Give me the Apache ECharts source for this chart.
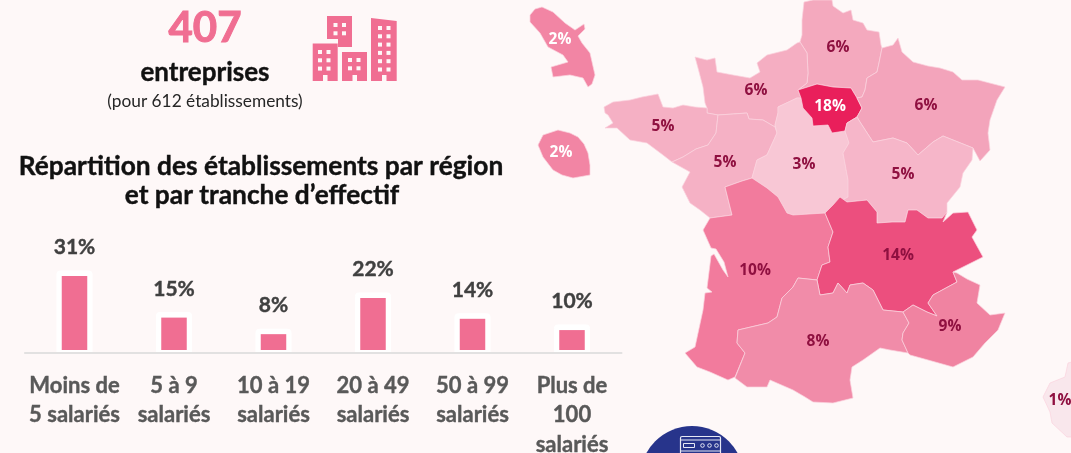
<!DOCTYPE html>
<html>
<head>
<meta charset="utf-8">
<style>
  html, body { margin: 0; padding: 0; background: #fef8f8; }
  #chart { width: 1071px; height: 453px; }
</style>
<script src="https://cdn.jsdelivr.net/npm/echarts@6/dist/echarts.min.js"></script>
</head>
<body>
<div id="chart"></div>
<script>
// tranches d'effectif
const categories = ["Moins de\n5 salariés", "5 à 9\nsalariés", "10 à 19\nsalariés", "20 à 49\nsalariés", "50 à 99\nsalariés", "Plus de\n100\nsalariés"];
// hauteurs (les barres du visuel ne suivent pas tout à fait les % imprimés)
const barValues = [30.8, 13.5, 6.6, 21.7, 13, 8.3];
const barLabels = ["31%", "15%", "8%", "22%", "14%", "10%"];

// régions
const regionNames = ["Hauts-de-France", "Normandie", "Bretagne", "Pays de la Loire", "Centre-Val de Loire", "Île-de-France", "Grand Est", "Bourgogne-Franche-Comté", "Nouvelle-Aquitaine", "Auvergne-Rhône-Alpes", "Occitanie", "PACA", "Corse", "Martinique", "La Réunion"];
const regionValues = [6, 6, 5, 5, 3, 18, 6, 5, 10, 14, 8, 9, 1, 2, 2];

const PINK = "#f06e92";
const BG = "#fef8f8";
const FONT = "Lato, sans-serif";
const MAP_FONT = "'Open Sans', sans-serif";

const regionColors = {
  "Hauts-de-France": "#f4a9be", "Normandie": "#f5aec2", "Bretagne": "#f5b0c4", "Pays de la Loire": "#f5b1c5",
  "Centre-Val de Loire": "#f8c7d5", "Île-de-France": "#e91f5b", "Grand Est": "#f3a4bb", "Bourgogne-Franche-Comté": "#f6b6c9",
  "Nouvelle-Aquitaine": "#f27b9d", "Auvergne-Rhône-Alpes": "#ec4f7e", "Occitanie": "#f18ca9", "PACA": "#f083a1",
  "Corse": "#f9e7ec", "Martinique": "#f285a4", "La Réunion": "#f285a4",
};
const whiteLabels = ["Île-de-France", "Martinique", "La Réunion"];

// contours simplifiés, en pixels de l'image (y vers le bas)
const outlines = {
  "Hauts-de-France": [[804,2],[813,0],[832,0],[833,6],[843,13],[851,10],[853,20],[863,23],[867,30],[879,32],[881,45],[882,48],[879,63],[877,72],[867,78],[865,90],[862,97],[857,98],[851,88],[833,87],[817,84],[798,90],[807,83],[808,73],[807,53],[800,42],[802,35],[802,20]],
  "Normandie": [[695,57],[707,60],[715,58],[717,72],[733,75],[750,78],[760,72],[757,63],[767,55],[787,50],[797,43],[800,42],[807,53],[808,73],[807,83],[798,90],[801,98],[797,98],[778,107],[778,113],[775,125],[775,127],[763,120],[749,119],[747,113],[733,114],[718,115],[707,113],[707,108],[705,103],[703,87],[698,68]],
  "Bretagne": [[604,107],[613,102],[630,100],[642,97],[658,94],[663,107],[673,108],[683,105],[695,107],[707,108],[707,113],[718,115],[716,133],[708,145],[696,149],[683,157],[672,162],[663,155],[647,143],[630,140],[617,128],[605,128],[613,123],[608,115],[605,113]],
  "Pays de la Loire": [[718,115],[733,114],[747,113],[749,119],[763,120],[775,127],[777,133],[767,155],[757,160],[752,178],[742,181],[725,187],[727,195],[732,215],[710,218],[700,210],[690,203],[682,187],[690,172],[672,162],[683,157],[696,149],[708,145],[716,133]],
  "Centre-Val de Loire": [[778,107],[797,98],[801,98],[803,108],[812,118],[813,126],[828,125],[832,133],[845,131],[849,143],[843,153],[848,180],[848,197],[833,205],[825,213],[793,215],[787,213],[778,197],[767,188],[752,178],[757,160],[767,155],[777,133],[775,125],[778,113]],
  "Île-de-France": [[798,90],[817,84],[833,87],[851,88],[857,98],[862,108],[857,117],[847,123],[845,131],[832,133],[828,125],[813,126],[812,118],[803,108],[801,98]],
  "Grand Est": [[882,48],[893,45],[898,38],[902,52],[913,62],[928,66],[940,68],[953,72],[962,80],[978,80],[1005,87],[997,100],[990,120],[988,133],[990,150],[980,161],[973,148],[958,142],[943,136],[933,142],[918,155],[907,143],[893,138],[873,142],[860,122],[857,117],[862,108],[857,98],[862,97],[865,90],[867,78],[877,72],[879,63]],
  "Bourgogne-Franche-Comté": [[845,131],[847,123],[857,117],[860,122],[873,142],[893,138],[907,143],[918,155],[933,142],[943,136],[958,142],[973,148],[972,160],[963,173],[960,187],[947,203],[947,212],[943,222],[942,218],[928,218],[917,210],[908,210],[905,222],[892,222],[877,223],[877,212],[867,200],[847,202],[840,197],[833,205],[848,197],[848,180],[843,153],[849,143]],
  "Nouvelle-Aquitaine": [[725,187],[742,181],[752,178],[767,188],[778,197],[787,213],[793,215],[825,213],[833,232],[828,247],[830,262],[822,265],[817,280],[798,278],[793,287],[782,298],[777,317],[768,323],[738,330],[737,343],[745,353],[735,377],[728,380],[710,372],[697,367],[685,353],[695,347],[703,310],[705,293],[712,292],[707,288],[711,256],[714,254],[723,270],[728,277],[724,262],[716,249],[711,248],[703,230],[710,218],[732,215],[727,195]],
  "Auvergne-Rhône-Alpes": [[840,197],[847,202],[867,200],[877,212],[877,223],[892,222],[905,222],[908,210],[917,210],[928,218],[942,218],[947,212],[943,222],[953,213],[968,212],[977,230],[972,237],[983,257],[953,272],[957,282],[933,295],[928,303],[937,316],[927,312],[913,305],[903,312],[883,310],[873,290],[863,283],[850,285],[847,293],[838,283],[833,293],[820,295],[817,280],[822,265],[830,262],[828,247],[833,232],[825,213],[833,205]],
  "Occitanie": [[738,330],[768,323],[777,317],[782,298],[793,287],[798,278],[817,280],[820,295],[833,293],[838,283],[847,293],[850,285],[863,283],[873,290],[883,310],[903,312],[909,323],[903,333],[902,340],[908,353],[890,350],[880,348],[863,360],[852,367],[850,380],[853,398],[833,403],[813,402],[805,397],[793,390],[770,380],[767,387],[747,387],[735,378],[745,353],[737,343]],
  "PACA": [[957,273],[967,279],[980,285],[977,303],[990,315],[1005,313],[998,330],[985,343],[973,357],[953,367],[928,360],[910,355],[908,353],[902,340],[903,333],[909,323],[903,312],[913,305],[927,312],[937,316],[928,303],[933,295],[957,282],[953,272]],
  "Corse": [[1068,363],[1080,360],[1090,400],[1082,437],[1067,437],[1052,423],[1050,412],[1043,397],[1050,383],[1065,377]],
  "Martinique": [[530,15],[535,9],[542,7],[553,12],[565,23],[575,30],[584,24],[585,29],[578,36],[582,43],[590,53],[595,75],[592,84],[588,87],[583,78],[570,75],[553,77],[551,67],[568,62],[563,55],[548,47],[540,33],[530,22]],
  "La Réunion": [[538,145],[543,135],[558,130],[570,133],[578,137],[584,144],[588,153],[590,165],[590,175],[573,178],[562,175],[553,170],[543,157]],
};
const labelPoints = {
  "Hauts-de-France": [838,48], "Normandie": [756,91], "Bretagne": [663,127], "Pays de la Loire": [725,163],
  "Centre-Val de Loire": [804,165], "Île-de-France": [830,107], "Grand Est": [926,106], "Bourgogne-Franche-Comté": [903,175],
  "Nouvelle-Aquitaine": [755,271], "Auvergne-Rhône-Alpes": [898,256], "Occitanie": [818,342], "PACA": [950,327],
  "Corse": [1060,401], "Martinique": [560,40], "La Réunion": [561,153],
};

// GeoJSON : y inversé pour garder des pixels image
const flip = (p) => [p[0], 453 - p[1]];
const franceGeo = {
  type: "FeatureCollection",
  features: regionNames.map((name) => {
    const ring = outlines[name].map(flip);
    ring.push(ring[0]);
    return {
      type: "Feature",
      properties: { name, cp: flip(labelPoints[name]) },
      geometry: { type: "Polygon", coordinates: [ring] },
    };
  }),
};
echarts.registerMap("france", franceGeo);

const mapData = regionNames.map((name, i) => ({
  name,
  value: regionValues[i],
  itemStyle: { areaColor: regionColors[name] },
  label: { color: whiteLabels.includes(name) ? "#fff" : "#8f1040" },
}));

// immeuble : fenêtres 2 colonnes + porte
function windows(x, y, rows, cols) {
  const out = [];
  for (let r = 0; r < rows; r++) {
    for (let c = 0; c < cols; c++) {
      out.push({ type: "rect", shape: { x: x + c * 8.5, y: y + r * 8.3, width: 4, height: 4 }, style: { fill: BG } });
    }
  }
  return out;
}
function door(x) {
  return { type: "rect", shape: { x, y: 75, width: 4.5, height: 6 }, style: { fill: BG } };
}
function pinkRect(x, y, w, h) {
  return { type: "rect", shape: { x, y, width: w, height: h }, style: { fill: PINK } };
}
const buildingIcon = [
  { type: "polygon", shape: { points: [[327,16],[352,16],[352,47],[338,47],[338,39],[327,39]] }, style: { fill: PINK } },
  pinkRect(312.7, 43.5, 25, 37.5),
  pinkRect(342, 52, 25, 29),
  { type: "polygon", shape: { points: [[371,18],[396.7,21],[396.7,81],[371,81]] }, style: { fill: PINK } },
  ...windows(333.5, 23, 2, 2),
  ...windows(318, 50, 3, 2),
  ...windows(348, 58, 2, 2),
  ...windows(378, 26, 6, 2),
  door(323),
  door(352.5),
  door(382),
];

function text(str, x, y, size, color, weight, thick) {
  return {
    type: "text",
    style: {
      text: str, x, y, fill: color, font: `${weight} ${size}px ${FONT}`, align: "center", verticalAlign: "middle",
      stroke: thick ? color : null, lineWidth: thick || 0,
    },
  };
}

const serverIcon = [
  { type: "circle", shape: { cx: 692, cy: 478, r: 52 }, style: { fill: "#27348b" } },
  { type: "rect", shape: { x: 680.5, y: 436.5, width: 40, height: 30, r: 1.5 }, style: { fill: "none", stroke: "#e6e8f4", lineWidth: 1.2 } },
  { type: "line", shape: { x1: 680.5, y1: 440, x2: 720.5, y2: 440 }, style: { stroke: "#e6e8f4", lineWidth: 1 } },
  { type: "line", shape: { x1: 680.5, y1: 451, x2: 720.5, y2: 451 }, style: { stroke: "#e6e8f4", lineWidth: 1 } },
  { type: "rect", shape: { x: 683.5, y: 443.5, width: 11, height: 4 }, style: { fill: "none", stroke: "#e6e8f4", lineWidth: 1 } },
  { type: "circle", shape: { cx: 702.5, cy: 445.5, r: 1.8 }, style: { fill: "none", stroke: "#e6e8f4", lineWidth: 1 } },
  { type: "circle", shape: { cx: 709.5, cy: 445.5, r: 1.8 }, style: { fill: "none", stroke: "#e6e8f4", lineWidth: 1 } },
  { type: "circle", shape: { cx: 716.5, cy: 445.5, r: 1.8 }, style: { fill: "none", stroke: "#e6e8f4", lineWidth: 1 } },
];

const options = {
  backgroundColor: BG,
  animation: false,
  grid: { left: 24.75, width: 597, top: 230, height: 123, outerBoundsMode: "none" },
  xAxis: {
    type: "category",
    data: categories,
    axisLine: { onZero: false, lineStyle: { color: "#d9d9d9", width: 1.5 } },
    axisTick: { show: false },
    axisLabel: {
      interval: 0,
      margin: 18,
      color: "#595959",
      fontFamily: FONT,
      fontWeight: "bold",
      fontSize: 22,
      lineHeight: 29.5,
      verticalAlign: "top",
      textBorderColor: "#595959",
      textBorderWidth: 0.4,
    },
  },
  yAxis: { type: "value", min: -1.25, max: 50, show: false },
  series: [
    {
      // halo blanc derrière chaque barre
      type: "custom",
      silent: true,
      z: 1,
      data: barValues.map((v, i) => [i, v]),
      renderItem: (params, api) => {
        const top = api.coord([api.value(0), api.value(1)]);
        const base = api.coord([api.value(0), 0]);
        return {
          type: "rect",
          shape: { x: top[0] - 18, y: top[1] - 5.5, width: 36, height: base[1] - top[1] + 7.5, r: [4, 4, 0, 0] },
          style: { fill: "#fff" },
        };
      },
    },
    {
      type: "bar",
      z: 2,
      barWidth: 25.5,
      data: barValues,
      itemStyle: { color: PINK },
      label: {
        show: true,
        position: "top",
        distance: 18,
        formatter: (p) => barLabels[p.dataIndex],
        color: "#404040",
        fontFamily: FONT,
        fontWeight: "bold",
        fontSize: 21,
        textBorderColor: "#404040",
        textBorderWidth: 0.4,
      },
    },
    {
      type: "map",
      map: "france",
      roam: false,
      silent: true,
      left: 0,
      top: 0,
      width: 1071,
      height: 453,
      aspectScale: 1,
      boundingCoords: [[0, 453], [1071, 0]],
      itemStyle: { borderColor: "#fbd3de", borderWidth: 0.7 },
      label: {
        show: true,
        formatter: "{c}%",
        fontFamily: MAP_FONT,
        fontWeight: "bold",
        fontSize: 15.5,
      },
      data: mapData,
    },
  ],
  graphic: [
    text("407", 205, 28, 42, PINK, "bold", 1),
    text("entreprises", 205, 73, 26, "#111", "bold", 0.4),
    text("(pour 612 établissements)", 205, 101, 17.3, "#262626", "normal"),
    text("Répartition des établissements par région", 261, 167, 26.3, "#111", "bold", 0.4),
    text("et par tranche d’effectif", 262, 196, 26.3, "#111", "bold", 0.4),
    ...buildingIcon,
    ...serverIcon,
  ],
};

const chart = echarts.init(document.getElementById("chart"));
chart.setOption(options);
</script>
</body>
</html>
